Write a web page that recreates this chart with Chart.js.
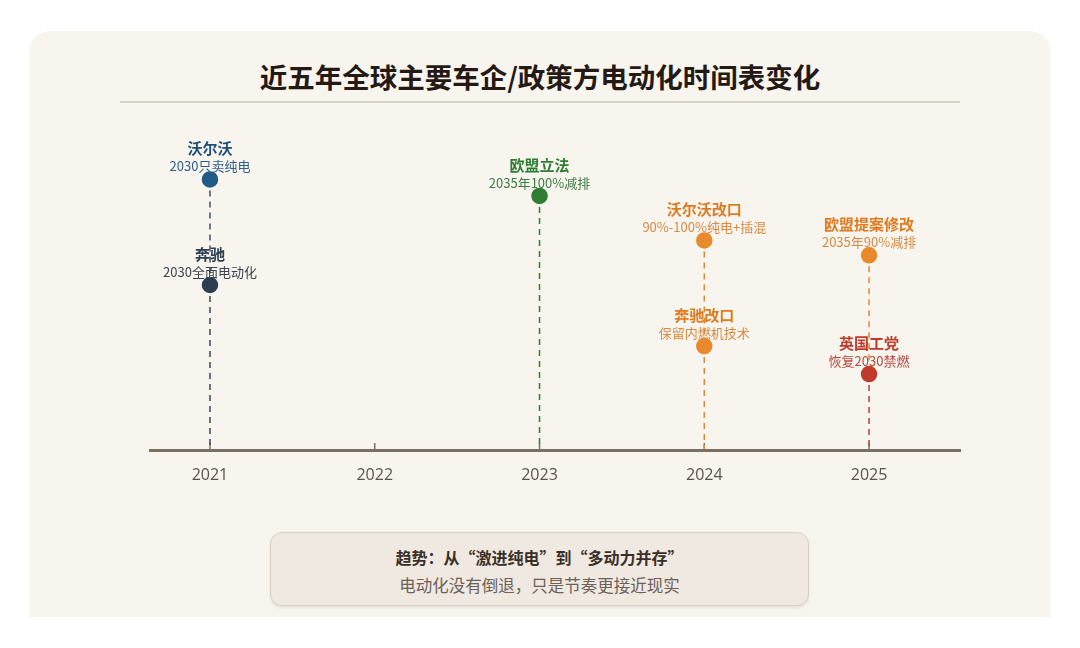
<!DOCTYPE html>
<html>
<head>
<meta charset="utf-8">
<script src="https://cdn.jsdelivr.net/npm/chart.js@4.4.1/dist/chart.umd.min.js"></script>
<style>
  html, body { margin:0; padding:0; background:#ffffff; }
  body { width:1080px; height:648px; position:relative; overflow:hidden; font-family:"Noto Sans CJK SC","Noto Sans",sans-serif; }
  #card { position:absolute; left:30px; top:31px; width:1020px; height:586px; background:#f8f5ef; border-radius:20px 20px 0 0; }
  #title { position:absolute; left:30px; width:1020px; top:58px; height:36px; line-height:36px; text-align:center; font-size:27.5px; font-weight:700; color:#241a13; }
  #rule { position:absolute; left:120px; top:101px; width:840px; height:1.5px; background:#d9d0c7; }
  #note { position:absolute; left:270px; top:532px; width:537px; height:72px; background:#efe9e1; border:1.5px solid #d8cec3; border-radius:12px; box-shadow:0 2px 3px rgba(0,0,0,0.08); text-align:center; }
  #note .h { position:absolute; left:0; right:0; top:12px; line-height:24px; font-size:16px; font-weight:700; color:#3a3029; }
  #note .s { position:absolute; left:0; right:0; top:40px; line-height:24px; font-size:16.5px; color:#6b6159; }
  #wrap { position:absolute; left:0; top:0; width:1080px; height:648px; }
</style>
</head>
<body>
<div id="card"></div>
<div id="title">近五年全球主要车企/政策方电动化时间表变化</div>
<div id="rule"></div>
<div id="note"><div class="h">趋势：从“激进纯电”到“多动力并存”</div><div class="s">电动化没有倒退，只是节奏更接近现实</div></div>
<div id="wrap"><canvas id="c"></canvas></div>
<script>
// ---- data ----
const years = [2021, 2022, 2023, 2024, 2025];
const eventNames = ['沃尔沃', '奔驰', '欧盟立法', '沃尔沃改口', '奔驰改口', '欧盟提案修改', '英国工党'];
const eventNotes = ['2030只卖纯电', '2030全面电动化', '2035年100%减排', '90%-100%纯电+插混', '保留内燃机技术', '2035年90%减排', '恢复2030禁燃'];
const eventYears = [2021, 2021, 2023, 2024, 2024, 2025, 2025];
const eventLevels = [82, 50, 77, 63.5, 31.5, 59, 23];

// ---- styles ----
const pointColors = ['#1f5b86', '#2c3e50', '#2e7d32', '#e8892b', '#e8892b', '#e8892b', '#c0392b'];
const nameColors  = ['#1f4e79', '#2c3e50', '#2e7d32', '#e07a1f', '#e07a1f', '#e07a1f', '#c0392b'];
const noteColors  = ['#2d5f8a', '#3a4450', '#3e7b45', '#d98a45', '#d98a45', '#d98a45', '#b5473d'];
const lineColors  = ['#3e5268', '#3b4656', '#2e7d32', '#e0883a', '#e0883a', '#e0883a', '#a8453a'];
const AXIS_COLOR = '#7b6f64';
const FONT = '"Noto Sans CJK SC", "Noto Sans", sans-serif';

const timelinePlugin = {
  id: 'timeline',
  beforeDatasetsDraw(chart) {
    const {ctx, scales: {x, y}} = chart;
    ctx.save();
    // small year tick marks
    ctx.strokeStyle = AXIS_COLOR;
    ctx.lineWidth = 1.5;
    years.forEach(v => {
      const px = x.getPixelForValue(v);
      ctx.beginPath();
      ctx.moveTo(px, y.getPixelForValue(0));
      ctx.lineTo(px, y.getPixelForValue(0) - 7);
      ctx.stroke();
    });
    // dashed drop lines: each runs down to the next lower event of the same year (or the axis)
    ctx.setLineDash([6, 5]);
    ctx.lineWidth = 1.5;
    eventYears.forEach((v, i) => {
      const px = x.getPixelForValue(v);
      let stop = 0;
      eventYears.forEach((w, j) => {
        if (w === v && eventLevels[j] < eventLevels[i] && eventLevels[j] > stop) stop = eventLevels[j];
      });
      ctx.strokeStyle = lineColors[i];
      ctx.beginPath();
      ctx.moveTo(px, y.getPixelForValue(eventLevels[i]));
      ctx.lineTo(px, y.getPixelForValue(stop) - 1);
      ctx.stroke();
    });
    ctx.restore();
  },
  afterDatasetsDraw(chart) {
    const {ctx, scales: {x, y}} = chart;
    ctx.save();
    ctx.textAlign = 'center';
    ctx.textBaseline = 'middle';
    eventYears.forEach((v, i) => {
      const px = x.getPixelForValue(v);
      const py = y.getPixelForValue(eventLevels[i]);
      ctx.font = 'bold 15px ' + FONT;
      ctx.fillStyle = nameColors[i];
      ctx.fillText(eventNames[i], px, py - 31);
      ctx.font = '13px ' + FONT;
      ctx.fillStyle = noteColors[i];
      ctx.fillText(eventNotes[i], px, py - 13);
    });
    ctx.restore();
  }
};

new Chart(document.getElementById('c'), {
  type: 'scatter',
  data: {
    datasets: [{
      data: eventYears.map((v, i) => ({x: v, y: eventLevels[i]})),
      pointBackgroundColor: pointColors,
      pointBorderColor: '#f8f5ef',
      pointBorderWidth: 1.5,
      pointRadius: 9,
      pointHoverRadius: 9
    }]
  },
  options: {
    responsive: true,
    maintainAspectRatio: false,
    animation: false,
    events: [],
    layout: { padding: { left: 150, right: 120, top: 120, bottom: 158 } },
    plugins: { legend: { display: false }, tooltip: { enabled: false }, title: { display: false } },
    scales: {
      x: {
        type: 'linear',
        min: 2020.636,
        max: 2025.552,
        afterBuildTicks: s => { s.ticks = years.map(v => ({value: v})); },
        afterFit: s => { s.height = 40; },
        grid: { display: false, drawTicks: false },
        border: { display: true, color: AXIS_COLOR, width: 3 },
        ticks: {
          padding: 16,
          color: '#5b524b',
          font: { size: 16, family: '"Open Sans", "Noto Sans CJK SC", sans-serif' },
          callback: v => String(v),
          maxRotation: 0
        }
      },
      y: {
        display: false,
        min: 0,
        max: 100
      }
    }
  },
  plugins: [timelinePlugin]
});
</script>
</body>
</html>
